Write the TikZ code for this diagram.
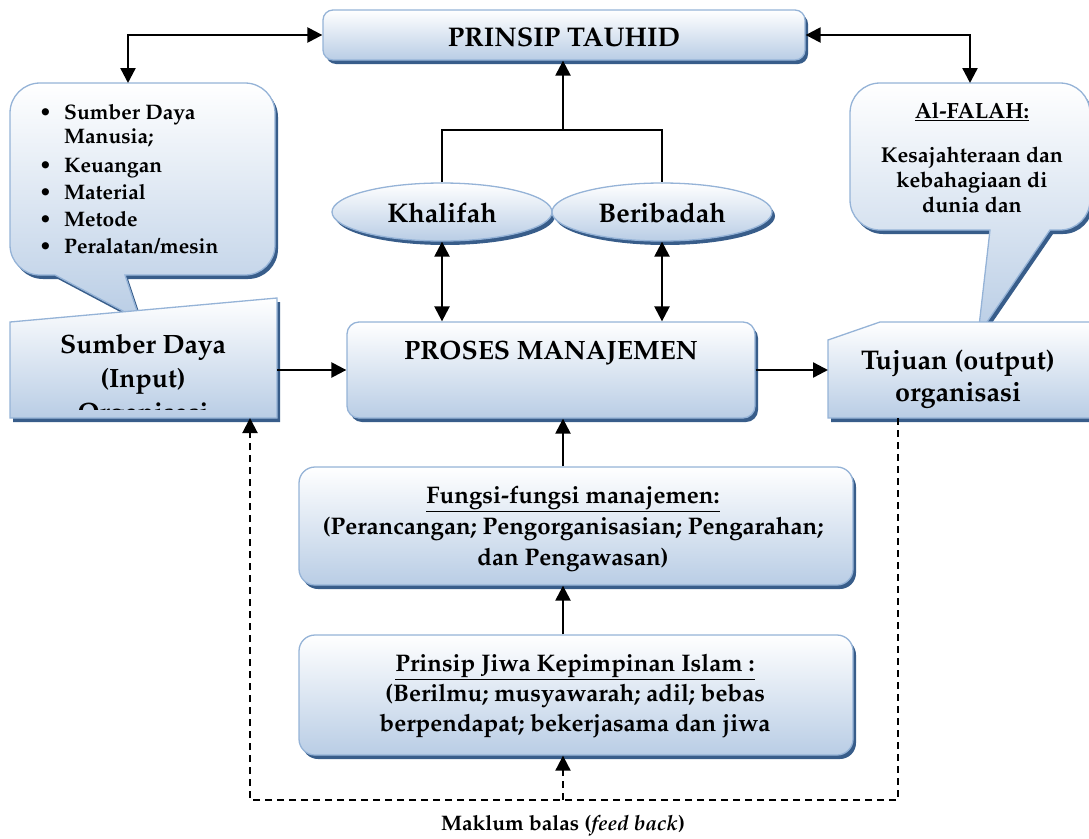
\documentclass[tikz,border=0pt]{standalone}
\usepackage[T1]{fontenc}
\renewcommand{\rmdefault}{ppl}
\usetikzlibrary{arrows.meta,shadows,shapes.geometric}
\definecolor{bordc}{HTML}{95B3D7}
\definecolor{fillb}{HTML}{B9CDE5}
\definecolor{shadc}{HTML}{385D8A}
\begin{document}
\begin{tikzpicture}[x=1pt,y=-1pt,font=\bfseries,
  shad/.style={drop shadow={shadow xshift=3pt,shadow yshift=-4pt,fill=shadc,opacity=1}},
  boxfill/.style={draw=bordc,line width=1.3pt,top color=white,bottom color=fillb,shad},
  rbox/.style={boxfill,rectangle,rounded corners=#1,inner sep=0pt},
  ell/.style={boxfill,ellipse,inner sep=0pt,minimum width=220pt,minimum height=58pt},
  txt/.style={inner sep=0pt,align=center},
  con/.style={line width=2.4pt},
  arr/.style={con,-{Triangle[length=15pt,width=15pt]}},
  arrb/.style={con,{Triangle[length=15pt,width=15pt]}-{Triangle[length=15pt,width=15pt]}},
  dsh/.style={line width=2pt,dash pattern=on 7pt off 5pt}]
\useasboundingbox (0,0) rectangle (1089,838);

% PRINSIP TAUHID
\node[rbox=10pt,minimum width=482pt,minimum height=50pt] (tauhid) at (564,35) {};
\node[txt,font=\bfseries\fontsize{27}{30}\selectfont] (tauhidT) at (564,37) {PRINSIP TAUHID};

% left callout
\path[boxfill] (40,83) -- (245,83) arc[start angle=-90,end angle=0,radius=30] -- (275,245)
  arc[start angle=0,end angle=90,radius=30] -- (125,275) -- (140,320) -- (55,275) -- (40,275)
  arc[start angle=90,end angle=180,radius=30] -- (10,113) arc[start angle=180,end angle=270,radius=30] -- cycle;
\coordinate (cL) at (128,83);
\begin{scope}[every node/.style={inner sep=0pt,anchor=base west,font=\bfseries\fontsize{21}{24}\selectfont}]
\node (b1) at (39,119) {\textbullet};
\node (l1) at (64,119) {Sumber Daya};
\node (l1b) at (64,143) {Manusia;};
\node (b2) at (39,172) {\textbullet};
\node (l2) at (64,172) {Keuangan};
\node (b3) at (39,199) {\textbullet};
\node (l3) at (64,199) {Material};
\node (b4) at (39,226) {\textbullet};
\node (l4) at (64,226) {Metode};
\node (b5) at (39,253) {\textbullet};
\node (l5) at (64,253) {Peralatan/mesin};
\end{scope}

% right callout
\path[boxfill] (880,83) -- (1060,83) arc[start angle=-90,end angle=0,radius=30] -- (1090,200)
  arc[start angle=0,end angle=90,radius=30] -- (1050,230) -- (978,335) -- (990,230) -- (880,230)
  arc[start angle=90,end angle=180,radius=30] -- (850,113) arc[start angle=180,end angle=270,radius=30] -- cycle;
\coordinate (cR) at (970,83);
\node[txt,font=\bfseries\fontsize{22}{24}\selectfont] (falah) at (972,112) {\underline{Al-FALAH:}};
\node[txt,font=\bfseries\fontsize{21.5}{25}\selectfont] (falahT) at (972,180) {Kesajahteraan dan\\kebahagiaan di\\dunia dan};

% Sumber Daya box
\path[boxfill] (10,322) -- (277,298) -- (277,418) -- (10,418) -- cycle;
\begin{scope}
\clip (10,290) rectangle (277,409);
\node[txt,font=\bfseries\fontsize{26.5}{34}\selectfont] (sumber) at (143,381) {Sumber Daya\\(Input)\\Organisasi};
\end{scope}
\coordinate (sumE) at (277,370);
\coordinate (sumS) at (250,418);

% Tujuan box
\path[boxfill] (828,340) -- (880,322) -- (1090,322) -- (1090,418) -- (828,418) -- cycle;
\node[txt,font=\bfseries\fontsize{27}{32}\selectfont] (tujuan) at (958,379) {Tujuan (output)\\organisasi};
\coordinate (tujW) at (828,370);
\coordinate (tujS) at (898,418);

% ellipses
\node[ell] (khal) at (442,212) {};
\node[txt,font=\bfseries\fontsize{27}{30}\selectfont] (khalT) at (442,213) {Khalifah};
\node[ell] (berib) at (662,212) {};
\node[txt,font=\bfseries\fontsize{27}{30}\selectfont] (beribT) at (662,213) {Beribadah};

% PROSES
\node[rbox=12pt,minimum width=408pt,minimum height=96pt] (proses) at (551,370) {};
\node[txt,font=\bfseries\fontsize{26.5}{30}\selectfont] (prosesT) at (551,353) {PROSES MANAJEMEN};

% Fungsi
\node[rbox=16pt,minimum width=554pt,minimum height=118pt] (fungsi) at (576,526) {};
\node[txt,font=\bfseries\fontsize{24}{31}\selectfont] (fungsiT) at (573,529) {\underline{Fungsi-fungsi manajemen:}\\(Perancangan; Pengorganisasian; Pengarahan;\\dan Pengawasan)};

% Jiwa
\node[rbox=16pt,minimum width=554pt,minimum height=120pt] (jiwa) at (576,695) {};
\node[txt,font=\bfseries\fontsize{24}{30}\selectfont] (jiwaT) at (575,696) {\underline{Prinsip Jiwa Kepimpinan Islam :}\\(Berilmu; musyawarah; adil; bebas\\berpendapat; bekerjasama dan jiwa};

% connectors
\draw[arrb] (cL) |- (tauhid.west);
\draw[arrb] (cR) |- (tauhid.east);
\coordinate (junc) at (563,130);
\draw[con] (khal.north) |- (junc) -| (berib.north);
\draw[arr] (junc) -- (junc |- tauhid.south);
\draw[arrb] (khal.south) -- (khal.south |- proses.north);
\draw[arrb] (berib.south) -- (berib.south |- proses.north);
\draw[arr] (sumE) -- (sumE -| proses.west);
\draw[arr] (proses.east |- tujW) -- (tujW);
\coordinate (fT) at (563,467);
\draw[arr] (fungsi.north -| fT) -- (fT |- proses.south);
\draw[arr] (jiwa.north -| fT) -- (fT |- fungsi.south);
\coordinate (fbM) at (563,800);
\coordinate (fbL) at (250,800);
\draw[dsh,-{Triangle[length=15pt,width=15pt]}] (fbM) -- (fbM |- jiwa.south);
\draw[dsh,-{Triangle[length=15pt,width=15pt]}] (tujS) |- (fbL) -- (sumS);
\node[txt,font=\bfseries\fontsize{21}{24}\selectfont] (maklum) at (563,826) {Maklum balas (\textit{feed back})};
\end{tikzpicture}
\end{document}
